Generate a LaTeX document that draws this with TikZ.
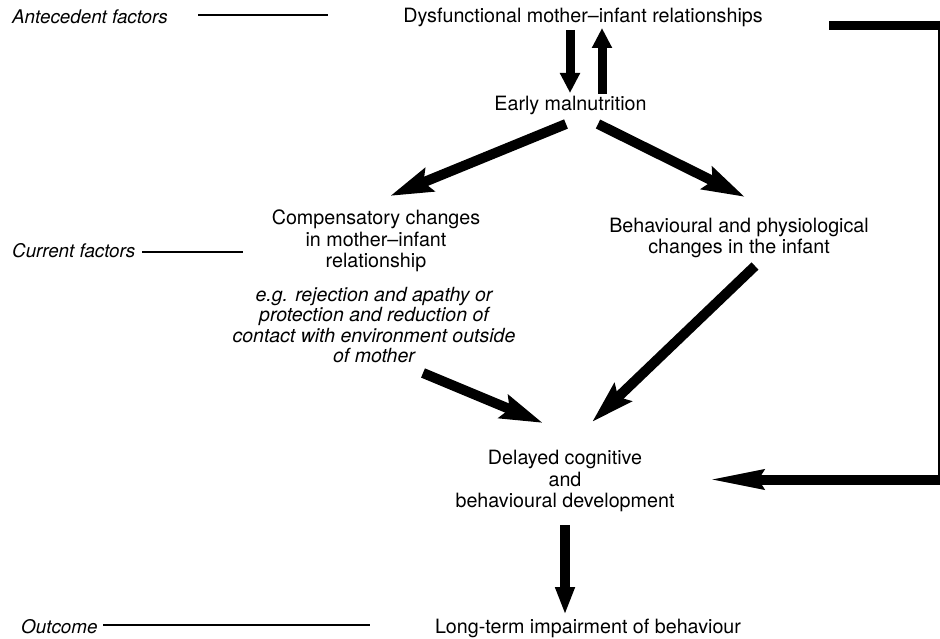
\documentclass[tikz,border=0pt]{standalone}
\usepackage{fontspec}
\setmainfont{TeX Gyre Heros}
\usetikzlibrary{arrows.meta}
\begin{document}
\begin{tikzpicture}[x=1pt,y=-1pt,
  txt/.style={font=\fontsize{19.7}{21.3}\selectfont, inner sep=0pt, align=center},
  ital/.style={font=\fontsize{19.5}{20.6}\selectfont\itshape, inner sep=0pt, align=center},
  lbl/.style={font=\fontsize{18.8}{21}\selectfont\itshape, inner sep=0pt, anchor=west},
  rulel/.style={line width=1.2pt},
  fatsmall/.style={line width=9pt, -{Triangle[length=20pt,width=19pt]}},
  fatdiag/.style={line width=10pt, -{Stealth[length=42pt,width=24pt,inset=6pt]}},
  fatdown/.style={line width=10pt, -{Triangle[length=28pt,width=18pt]}},
  fatback/.style={line width=10pt, -{Stealth[length=55pt,width=18pt,inset=4pt]}},
  thinret/.style={line width=2pt}]
\useasboundingbox (0,0) rectangle (940,639);
\fill[white] (0,0) rectangle (940,639);

% side labels
\node[lbl] (ant) at (12,17) {Antecedent factors};
\node[lbl] (cur) at (12,251) {Current factors};
\node[lbl] (out) at (21,627) {Outcome};
\coordinate (antl) at (198,15);
\coordinate (antr) at (328,15);
\coordinate (curl) at (142,252);
\coordinate (curr) at (243,252);
\coordinate (outl) at (103,625);
\coordinate (outr) at (370,625);
\draw[rulel] (antl) -- (antr);
\draw[rulel] (curl) -- (curr);
\draw[rulel] (outl) -- (outr);

% main nodes
\node[txt] (dys) at (583,17) {Dysfunctional mother--infant relationships};
\node[txt] (early) at (570.5,105) {Early malnutrition};
\node[txt] (comp) at (376,241) {Compensatory changes\\in mother--infant\\relationship};
\node[ital] (eg) at (374,325) {e.g. rejection and apathy or\\protection and reduction of\\contact with environment outside\\of mother};
\node[txt] (beh) at (739,238) {Behavioural and physiological\\changes in the infant};
\node[txt] (del) at (565,481) {Delayed cognitive\\and\\behavioural development};
\node[txt] (long) at (588,628) {Long-term impairment of behaviour};

% arrow end points
\coordinate (a1s) at (570,30);  \coordinate (a1e) at (570,93);
\coordinate (a2s) at (602,94);  \coordinate (a2e) at (602,28);
\coordinate (a3s) at (566,124); \coordinate (a3e) at (390,196);
\coordinate (a4s) at (598,124); \coordinate (a4e) at (745,197);
\coordinate (a5s) at (423,373); \coordinate (a5e) at (543,423);
\coordinate (a6s) at (755,266); \coordinate (a6e) at (592,422);
\coordinate (a7s) at (565,525); \coordinate (a7e) at (565,615);
\coordinate (f1) at (829,25.5);
\coordinate (f2) at (940,25.5);
\coordinate (f3) at (938.5,21);
\coordinate (f4) at (938.5,484);
\coordinate (f5) at (940,479.5);
\coordinate (f6) at (707,479.5);

\draw[fatsmall] (a1s) -- (a1e);
\draw[fatsmall] (a2s) -- (a2e);
\draw[fatdiag] (a3s) -- (a3e);
\draw[fatdiag] (a4s) -- (a4e);
\draw[fatdiag] (a5s) -- (a5e);
\draw[fatdiag] (a6s) -- (a6e);
\draw[fatdown] (a7s) -- (a7e);

% feedback loop
\draw[line width=9pt] (f1) -- (f2);
\draw[thinret] (f3) -- (f4);
\draw[fatback] (f5) -- (f6);
\end{tikzpicture}
\end{document}
